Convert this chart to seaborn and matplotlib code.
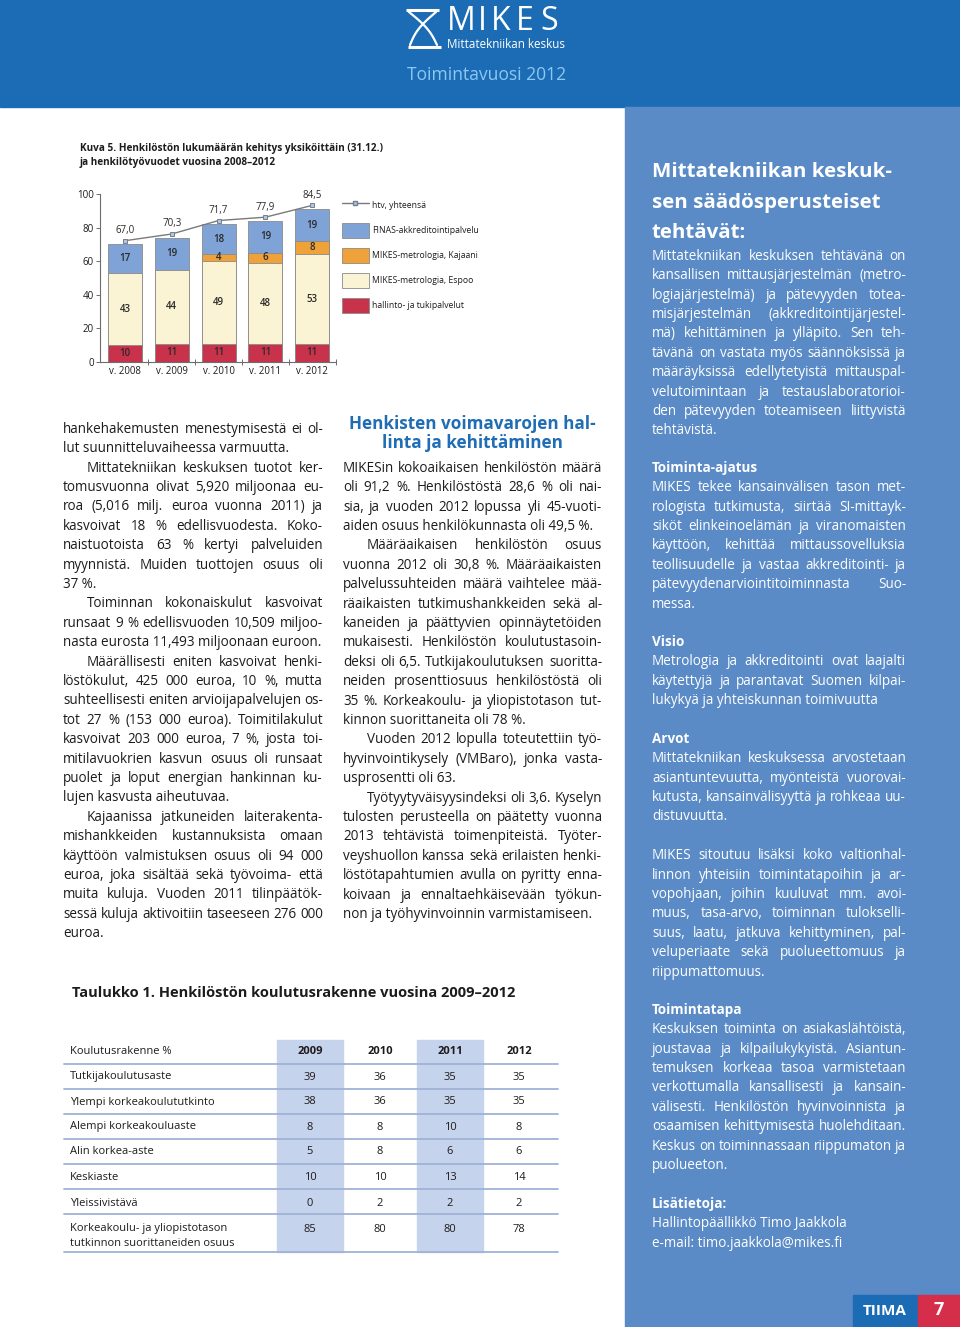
import numpy as np
import pandas as pd
import matplotlib
matplotlib.use("Agg")
import matplotlib.pyplot as plt
import matplotlib.patches as mpatches
from matplotlib.lines import Line2D
import seaborn as sns

# ---------------- data ----------------
years = ["v. 2008", "v. 2009", "v. 2010", "v. 2011", "v. 2012"]
hallinto = [10, 11, 11, 11, 11]
espoo = [43, 44, 49, 48, 53]
kajaani = [0, 0, 4, 6, 8]
finas = [17, 19, 18, 19, 19]
htv = [67.0, 70.3, 71.7, 77.9, 84.5]
series_labels = ["FINAS-akkreditointipalvelu", "MIKES-metrologia, Kajaani",
                 "MIKES-metrologia, Espoo", "hallinto- ja tukipalvelut"]
line_label = "htv, yhteensä"
y_ticks = [0, 20, 40, 60, 80, 100]

table_header = "Koulutusrakenne %"
table_years = ["2009", "2010", "2011", "2012"]
table_rows = ["Tutkijakoulutusaste", "Ylempi korkeakoulututkinto", "Alempi korkeakouluaste",
              "Alin korkea-aste", "Keskiaste", "Yleissivistävä",
              "Korkeakoulu- ja yliopistotason\ntutkinnon suorittaneiden osuus"]
table_vals = [[39, 36, 35, 35], [38, 36, 35, 35], [8, 8, 10, 8], [5, 8, 6, 6],
              [10, 10, 13, 14], [0, 2, 2, 2], [85, 80, 80, 78]]

left_paras = [
    (False, ["hankehakemusten menestymisestä ei ol-", "lut suunnitteluvaiheessa varmuutta."]),
    (True, ["Mittatekniikan keskuksen tuotot ker-", "tomusvuonna olivat 5,920 miljoonaa eu-",
            "roa (5,016 milj. euroa vuonna 2011) ja", "kasvoivat 18 % edellisvuodesta. Koko-",
            "naistuotoista 63 % kertyi palveluiden", "myynnistä. Muiden tuottojen osuus oli", "37 %."]),
    (True, ["Toiminnan kokonaiskulut kasvoivat", "runsaat 9 % edellisvuoden 10,509 miljoo-",
            "nasta eurosta 11,493 miljoonaan euroon."]),
    (True, ["Määrällisesti eniten kasvoivat henki-", "löstökulut, 425 000 euroa, 10 %, mutta",
            "suhteellisesti eniten arvioijapalvelujen os-", "tot 27 % (153 000 euroa). Toimitilakulut",
            "kasvoivat 203 000 euroa, 7 %, josta toi-", "mitilavuokrien kasvun osuus oli runsaat",
            "puolet ja loput energian hankinnan ku-", "lujen kasvusta aiheutuvaa."]),
    (True, ["Kajaanissa jatkuneiden laiterakenta-", "mishankkeiden kustannuksista omaan",
            "käyttöön valmistuksen osuus oli 94 000", "euroa, joka sisältää sekä työvoima- että",
            "muita kuluja. Vuoden 2011 tilinpäätök-", "sessä kuluja aktivoitiin taseeseen 276 000",
            "euroa."]),
]
mid_heading = ["Henkisten voimavarojen hal-", "linta ja kehittäminen"]
mid_paras = [
    (False, ["MIKESin kokoaikaisen henkilöstön määrä", "oli 91,2 %. Henkilöstöstä 28,6 % oli nai-",
             "sia, ja vuoden 2012 lopussa yli 45-vuoti-", "aiden osuus henkilökunnasta oli 49,5 %."]),
    (True, ["Määräaikaisen henkilöstön osuus", "vuonna 2012 oli 30,8 %. Määräaikaisten",
            "palvelussuhteiden määrä vaihtelee mää-", "räaikaisten tutkimushankkeiden sekä al-",
            "kaneiden ja päättyvien opinnäytetöiden", "mukaisesti. Henkilöstön koulutustasoin-",
            "deksi oli 6,5. Tutkijakoulutuksen suoritta-", "neiden prosenttiosuus henkilöstöstä oli",
            "35 %. Korkeakoulu- ja yliopistotason tut-", "kinnon suorittaneita oli 78 %."]),
    (True, ["Vuoden 2012 lopulla toteutettiin työ-", "hyvinvointikysely (VMBaro), jonka vasta-",
            "usprosentti oli 63."]),
    (True, ["Työtyytyväisyysindeksi oli 3,6. Kyselyn", "tulosten perusteella on päätetty vuonna",
            "2013 tehtävistä toimenpiteistä. Työter-", "veyshuollon kanssa sekä erilaisten henki-",
            "löstötapahtumien avulla on pyritty enna-", "koivaan ja ennaltaehkäisevään työkun-",
            "non ja työhyvinvoinnin varmistamiseen."]),
]
right_heading = ["Mittatekniikan keskuk-", "sen säädösperusteiset", "tehtävät:"]
right_blocks = [
    (255, None, ["Mittatekniikan keskuksen tehtävänä on", "kansallisen mittausjärjestelmän (metro-",
                 "logiajärjestelmä) ja pätevyyden totea-", "misjärjestelmän (akkreditointijärjestel-",
                 "mä) kehittäminen ja ylläpito. Sen teh-", "tävänä on vastata myös säännöksissä ja",
                 "määräyksissä edellytetyistä mittauspal-", "velutoimintaan ja testauslaboratorioi-",
                 "den pätevyyden toteamiseen liittyvistä", "tehtävistä."]),
    (467, "Toiminta-ajatus", ["MIKES tekee kansainvälisen tason met-", "rologista tutkimusta, siirtää SI-mittayk-",
                          "siköt elinkeinoelämän ja viranomaisten", "käyttöön, kehittää mittaussovelluksia",
                          "teollisuudelle ja vastaa akkreditointi- ja", "pätevyydenarviointitoiminnasta Suo-",
                          "messa."]),
    (641, "Visio", ["Metrologia ja akkreditointi ovat laajalti", "käytettyjä ja parantavat Suomen kilpai-",
                    "lukykyä ja yhteiskunnan toimivuutta"]),
    (738, "Arvot", ["Mittatekniikan keskuksessa arvostetaan", "asiantuntevuutta, myönteistä vuorovai-",
                    "kutusta, kansainvälisyyttä ja rohkeaa uu-", "distuvuutta."]),
    (835, None, ["MIKES sitoutuu lisäksi koko valtionhal-", "linnon yhteisiin toimintatapoihin ja ar-",
                 "vopohjaan, joihin kuuluvat mm. avoi-", "muus, tasa-arvo, toiminnan tulokselli-",
                 "suus, laatu, jatkuva kehittyminen, pal-", "veluperiaate sekä puolueettomuus ja",
                 "riippumattomuus."]),
    (1009, "Toimintatapa", ["Keskuksen toiminta on asiakaslähtöistä,", "joustavaa ja kilpailukykyistä. Asiantun-",
                            "temuksen korkeaa tasoa varmistetaan", "verkottumalla kansallisesti ja kansain-",
                            "välisesti. Henkilöstön hyvinvoinnista ja", "osaamisen kehittymisestä huolehditaan.",
                            "Keskus on toiminnassaan riippumaton ja", "puolueeton."]),
    (1203, "Lisätietoja:", ["Hallintopäällikkö Timo Jaakkola", "e-mail: timo.jaakkola@mikes.fi"]),
]

# ---------------- style ----------------
FONT = "Open Sans"
sns.set_theme(style="ticks")
plt.rcParams["font.family"] = [FONT, "DejaVu Sans"]

HALL, ESPOO, KAJ, FIN = "#c8324b", "#faf4d4", "#f0a23a", "#7fa3d6"
EDGE = "#8a8a8a"
HEAD = "#1b6cb5"
PANEL = "#5a8bc7"
TXT = "#1e1b1c"
HBLUE = "#1f6db5"
SHADE = "#c6d3ec"
TLINE = "#9fb2d8"

fig = plt.figure(figsize=(9.6, 13.27), dpi=100)
bg = fig.add_axes([0, 0, 1, 1])
bg.set_xlim(0, 960)
bg.set_ylim(1327, 0)
bg.axis("off")
renderer = fig.canvas.get_renderer()


def width_of(t):
    return t.get_window_extent(renderer).width


def fit_size(s, target, weight="normal", ref=10.0):
    t = bg.text(0, 0, s, fontsize=ref, weight=weight, family=FONT)
    w = width_of(t)
    t.remove()
    return ref * target / w


def put_line(s, x0, x1, y, size, color, justify, weight="normal"):
    yb = y + size * 100 / 72 * 0.36
    if not justify:
        bg.text(x0, yb, s, fontsize=size, color=color, weight=weight, family=FONT, va="baseline")
        return
    words = s.split(" ")
    arts = [bg.text(0, yb, w, fontsize=size, color=color, weight=weight, family=FONT, va="baseline")
            for w in words]
    ws = [width_of(a) for a in arts]
    n = len(words)
    if n == 1:
        arts[0].set_x(x0)
        return
    gmin = size * 100 / 72 * 0.18
    need = sum(ws) + gmin * (n - 1)
    if need > x1 - x0:
        sc = (x1 - x0) / need
        for a in arts:
            a.set_fontsize(size * sc)
        ws = [width_of(a) for a in arts]
    gap = (x1 - x0 - sum(ws)) / (n - 1)
    x = x0
    for a, w in zip(arts, ws):
        a.set_x(x)
        x += w + gap


def put_paras(paras, x0, x1, y0, pitch, size, color, indent=24):
    y = y0
    for ind, lines in paras:
        for i, ln in enumerate(lines):
            xs = x0 + (indent if (ind and i == 0) else 0)
            put_line(ln, xs, x1, y, size, color, justify=(i < len(lines) - 1))
            y += pitch
    return y


# ---------------- page background ----------------
bg.add_patch(mpatches.Rectangle((0, 0), 960, 107, color=HEAD, zorder=0))
bg.add_patch(mpatches.Rectangle((625, 107), 335, 1220, color=PANEL, zorder=0))

# logo hourglass
tt = np.linspace(0, 1, 30)
bg.plot([406, 439], [10, 10], color="white", lw=2.2, solid_capstyle="butt")
bg.plot([408, 441], [47, 47], color="white", lw=2.2, solid_capstyle="butt")
bg.plot(409 + 28 * tt + 4 * np.sin(np.pi * tt), 12 + 33 * tt, color="white", lw=1.6)
bg.plot(436 - 26 * tt - 4 * np.sin(np.pi * tt), 12 + 33 * tt, color="white", lw=1.6)
for ch, cx in zip("MIKES", [461, 482, 501, 525, 549]):
    bg.text(cx, 21, ch, fontsize=23, color="white", ha="center", va="center", family=FONT)
bg.text(506, 44, "Mittatekniikan keskus", fontsize=fit_size("Mittatekniikan keskus", 118),
        color="white", ha="center", va="center", family=FONT)
bg.text(487, 75, "Toimintavuosi 2012", fontsize=fit_size("Toimintavuosi 2012", 160),
        color="#8cc8f2", ha="center", va="center", family=FONT)

# tiima badge
bg.add_patch(mpatches.Rectangle((853, 1295), 65, 32, color=HEAD, zorder=1))
bg.add_patch(mpatches.Rectangle((918, 1295), 42, 32, color="#d42e4a", zorder=1))
bg.text(885, 1311, "TIIMA", fontsize=11, color="white", weight="bold", ha="center", va="center", family=FONT)
bg.text(939, 1310, "7", fontsize=13, color="white", weight="bold", ha="center", va="center", family=FONT)

# ---------------- chart title ----------------
t1 = "Kuva 5. Henkilöstön lukumäärän kehitys yksiköittäin (31.12.)"
ts = fit_size(t1, 303, weight="bold")
put_line(t1, 80, 383, 147, ts, TXT, False, weight="bold")
put_line("ja henkilötyövuodet vuosina 2008–2012", 80, 383, 161, ts, TXT, False, weight="bold")

# ---------------- stacked bar chart (seaborn) ----------------
df = pd.DataFrame({"year": years, "hallinto": hallinto, "espoo": espoo,
                   "kajaani": kajaani, "finas": finas, "htv": htv})
df["c1"] = df["hallinto"]
df["c2"] = df["c1"] + df["espoo"]
df["c3"] = df["c2"] + df["kajaani"]
df["c4"] = df["c3"] + df["finas"]
df["line_y"] = df["c4"] + 2.2

ax = fig.add_axes([100 / 960, 1 - 362 / 1327, 236 / 960, 168 / 1327])
ax.patch.set_alpha(0)
for col, colr in [("c4", FIN), ("c3", KAJ), ("c2", ESPOO), ("c1", HALL)]:
    sns.barplot(data=df, x="year", y=col, color=colr, saturation=1, width=0.73,
                edgecolor=EDGE, linewidth=0.6, errorbar=None, ax=ax)
sns.pointplot(data=df, x="year", y="line_y", color="#7a7a7a", markers="s", markersize=3.2,
              linewidth=1.0, errorbar=None, ax=ax)
for ln in ax.lines:
    ln.set_markerfacecolor("#b4c4dc")
    ln.set_markeredgecolor("#6f7f95")
    ln.set_markeredgewidth(0.7)

lab_kw = dict(ha="center", va="center", fontsize=7.0, color="#2a2a2a", family=FONT, weight="semibold")
for i in range(len(years)):
    segs = [(0, df["c1"][i]), (df["c1"][i], df["c2"][i]), (df["c2"][i], df["c3"][i]), (df["c3"][i], df["c4"][i])]
    vals = [hallinto[i], espoo[i], kajaani[i], finas[i]]
    for (lo, hi), v in zip(segs, vals):
        if v > 0:
            ax.text(i, (lo + hi) / 2, str(v), **lab_kw)
    ax.annotate(f"{htv[i]:.1f}".replace(".", ","), (i, df["line_y"][i]), xytext=(0, 7.3),
                textcoords="offset points", ha="center", va="center", fontsize=7.0,
                color="#2a2a2a", family=FONT)

ax.set_xlim(-0.535, 4.51)
ax.set_ylim(0, 100)
ax.set_yticks(y_ticks)
ax.set_xlabel("")
ax.set_ylabel("")
sns.despine(ax=ax)
for sp in ["left", "bottom"]:
    ax.spines[sp].set_color("#6d6d6d")
    ax.spines[sp].set_linewidth(0.8)
ax.tick_params(axis="y", length=3, width=0.7, pad=1.5, labelsize=7.0, color="#6d6d6d", labelcolor=TXT)
ax.tick_params(axis="x", which="major", length=0, pad=3, labelsize=6.9, labelcolor=TXT)
ax.set_xticks(np.arange(len(years)) + 0.5, minor=True)
ax.tick_params(axis="x", which="minor", length=4, width=0.7, direction="inout", color="#6d6d6d")

handles = [Line2D([0], [0], color="#7a7a7a", lw=1.0, marker="s", markersize=3.2,
                  markerfacecolor="#b4c4dc", markeredgecolor="#6f7f95")]
for colr in [FIN, KAJ, ESPOO, HALL]:
    handles.append(mpatches.Patch(facecolor=colr, edgecolor=EDGE, linewidth=0.6))
leg = ax.legend(handles, [line_label] + series_labels, loc="upper left",
                bbox_to_anchor=((342 - 100) / 236, (362 - 197.5) / 168), frameon=False,
                fontsize=6.2, handlelength=3.1, handleheight=2.4, labelspacing=1.1,
                handletextpad=0.4, borderaxespad=0, borderpad=0)
for t in leg.get_texts():
    t.set_color(TXT)

# ---------------- body text ----------------
BODY = fit_size("nasta eurosta 11,493 miljoonaan euroon.", 259)
PITCH = 19.4
put_paras(left_paras, 63, 323, 428, PITCH, BODY, TXT)

hs = fit_size(mid_heading[0], 247, weight="bold")
for ln, yy in zip(mid_heading, [423, 442]):
    bg.text(472, yy + hs * 100 / 72 * 0.36, ln, fontsize=hs, weight="bold", color=HBLUE,
            ha="center", va="baseline", family=FONT)
put_paras(mid_paras, 343, 602, 467, PITCH, BODY, TXT)

rh = fit_size(right_heading[0], 240, weight="bold")
for ln, yy in zip(right_heading, [170, 201, 231]):
    put_line(ln, 652, 906, yy, rh, "white", False, weight="bold")
for y0, head, lines in right_blocks:
    y = y0
    if head is not None:
        put_line(head, 652, 906, y, BODY, "white", False, weight="bold")
        y += PITCH
    elif y0 == 835:
        y += PITCH
    for i, ln in enumerate(lines):
        put_line(ln, 652, 906, y, BODY, "white", justify=(i < len(lines) - 1 and y0 != 1203))
        y += PITCH

# ---------------- table ----------------
tt_title = "Taulukko 1. Henkilöstön koulutusrakenne vuosina 2009–2012"
put_line(tt_title, 72, 518, 992, fit_size(tt_title, 446, weight="bold"), TXT, False, weight="bold")
col_x = [310, 380, 450, 519]
for j in (0, 2):
    bg.add_patch(mpatches.Rectangle((col_x[j] - 33, 1040), 66, 212, color=SHADE, zorder=1))
for yy in [1064, 1089, 1114, 1139, 1164, 1189, 1214, 1252]:
    bg.plot([64, 558], [yy, yy], color=TLINE, lw=1.3, zorder=2)
TS = 8.0
bg.text(70, 1051, table_header, fontsize=TS, color=TXT, va="center", family=FONT, zorder=3)
for j, yr in enumerate(table_years):
    bg.text(col_x[j], 1052, yr, fontsize=TS, color=TXT, weight="bold", ha="center", va="center",
            family=FONT, zorder=3)
row_y = [1077, 1102, 1127, 1152, 1177, 1203, 1229]
for r, (name, vals) in enumerate(zip(table_rows, table_vals)):
    if "\n" in name:
        for k, part in enumerate(name.split("\n")):
            bg.text(70, row_y[r] + 14 * k, part, fontsize=TS, color=TXT, va="center", family=FONT, zorder=3)
    else:
        bg.text(70, row_y[r], name, fontsize=TS, color=TXT, va="center", family=FONT, zorder=3)
    for j, v in enumerate(vals):
        bg.text(col_x[j], row_y[r], str(v), fontsize=TS, color=TXT, ha="center", va="center",
                family=FONT, zorder=3)

fig.savefig("out.png", dpi=100)
